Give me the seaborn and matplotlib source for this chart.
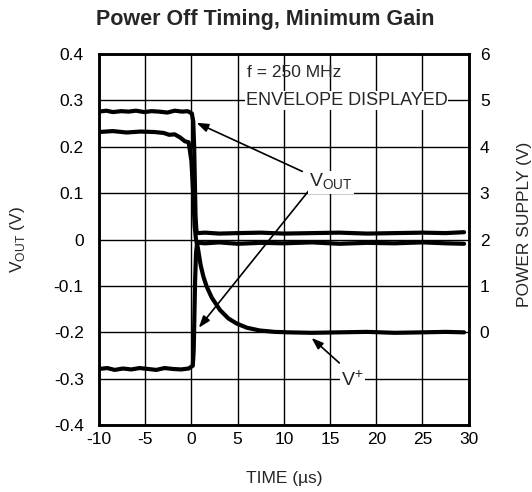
import numpy as np
import pandas as pd
import seaborn as sns
from matplotlib import pyplot as plt

# values read off the scope shot
# VOUT upper envelope (left axis, V)
vout_hi_t = [-10, -9.2, -8.5, -7.6, -6.8, -6, -5.1, -4.3, -3.5, -2.6, -1.8, -1, -0.4, 0.05,
             0.2, 0.3, 0.38, 0.45, 0.55, 0.7, 1.5, 3, 5, 7.5, 10, 13, 16, 19, 22, 25, 27.5, 29.5]
vout_hi_v = [0.276, 0.278, 0.275, 0.277, 0.276, 0.278, 0.275, 0.277, 0.276, 0.274, 0.278, 0.276,
             0.277, 0.272, 0.255, 0.2, 0.12, 0.05, 0.018, 0.014, 0.015, 0.013, 0.014, 0.015, 0.013,
             0.014, 0.015, 0.013, 0.014, 0.015, 0.014, 0.016]

# VOUT lower envelope (left axis, V)
vout_lo_t = [-10, -9.1, -8.3, -7.4, -6.5, -5.6, -4.7, -3.8, -2.9, -2, -1.1, -0.3, 0.15,
             0.25, 0.32, 0.4, 0.5, 0.6, 0.8, 1.5, 3, 5, 7.5, 10, 13, 16, 19, 22, 25, 27.5, 29.5]
vout_lo_v = [-0.279, -0.277, -0.281, -0.278, -0.28, -0.277, -0.279, -0.281, -0.277, -0.279,
             -0.28, -0.278, -0.272, -0.24, -0.17, -0.09, -0.03, -0.01, -0.007, -0.008, -0.006,
             -0.009, -0.007, -0.008, -0.006, -0.009, -0.007, -0.008, -0.006, -0.008, -0.009]

# V+ supply (right axis, V)
vplus_t = [-10, -8.5, -7, -5.5, -4, -3, -2.4, -1.8, -1.2, -0.7, -0.3, 0.0, 0.2, 0.35, 0.5,
           0.7, 1.0, 1.3, 1.65, 2.2, 3.1, 4.0, 4.9, 6.0, 7.4, 9, 10.5, 13, 16, 19, 22, 25, 27.5, 29.5]
vplus_v = [4.32, 4.34, 4.31, 4.33, 4.32, 4.3, 4.26, 4.27, 4.2, 4.12, 4.1, 3.7, 3.0, 2.3, 2.0,
           1.82, 1.45, 1.2, 0.99, 0.75, 0.48, 0.3, 0.19, 0.1, 0.04, 0.01, 0.0, -0.01, 0.0,
           0.01, -0.01, 0.0, 0.01, 0.0]

x_ticks = [-10, -5, 0, 5, 10, 15, 20, 25, 30]
y_ticks = [-0.4, -0.3, -0.2, -0.1, 0, 0.1, 0.2, 0.3, 0.4]
y_ticklabels = ["-0.4", "-0.3", "-0.2", "-0.1", "0", "0.1", "0.2", "0.3", "0.4"]
y2_ticks = [0, 1, 2, 3, 4, 5, 6]

sns.set_style("white")
plt.rcParams['font.family'] = ['Liberation Sans', 'DejaVu Sans']
plt.rcParams['mathtext.fontset'] = 'custom'
plt.rcParams['mathtext.rm'] = 'Liberation Sans'
plt.rcParams['axes.unicode_minus'] = False

FS = 12.5  # scope-shot text is wide, size picked to match widths

fig = plt.figure(figsize=(5.32, 4.92), dpi=100)
ax = fig.add_axes([0.186, 0.136, 0.695, 0.754])
ax2 = ax.twinx()

hi = pd.DataFrame({"t": vout_hi_t, "v": vout_hi_v})
lo = pd.DataFrame({"t": vout_lo_t, "v": vout_lo_v})
vp = pd.DataFrame({"t": vplus_t, "v": vplus_v})

sns.lineplot(data=hi, x="t", y="v", ax=ax, color="black", lw=3, sort=False, estimator=None)
sns.lineplot(data=lo, x="t", y="v", ax=ax, color="black", lw=3, sort=False, estimator=None)
sns.lineplot(data=vp, x="t", y="v", ax=ax2, color="black", lw=3, sort=False, estimator=None)

ax.set_xlim(-10, 30)
ax.set_ylim(-0.4, 0.4)
ax2.set_ylim(-2, 6)
ax.set_xticks(x_ticks)
ax.set_yticks(y_ticks)
ax.set_yticklabels(y_ticklabels)
ax2.set_yticks(y2_ticks)
ax.grid(True, color="black", lw=1.0)
ax.set_axisbelow(True)
ax2.grid(False)

for a in (ax, ax2):
    for s in a.spines.values():
        s.set_visible(True)
        s.set_color("black")
        s.set_linewidth(1.8)
    a.tick_params(length=0, labelsize=FS, colors="black")
ax.tick_params(axis="y", pad=11)
ax.tick_params(axis="x", pad=5)
ax2.tick_params(axis="y", pad=8)

ax.set_xlabel("TIME (\u00b5s)", fontsize=FS)
ax.set_ylabel(r"V$_{\mathregular{OUT}}$ (V)", fontsize=FS)
ax2.set_ylabel("POWER SUPPLY (V)", fontsize=FS)
ax.xaxis.set_label_coords(0.5, -0.125)
ax.yaxis.set_label_coords(-0.195, 0.5)
ax2.yaxis.set_label_coords(1.13, 0.54)
ax.set_title("Power Off Timing, Minimum Gain", fontsize=15.5, fontweight="bold",
             pad=21, x=0.45)

# annotations
ax2.text(6.0, 5.6, "f = 250 MHz", fontsize=FS, va="center")
ax2.text(5.9, 5.0, "ENVELOPE DISPLAYED", fontsize=13, va="center",
         bbox=dict(facecolor="white", edgecolor="none", pad=0.5))
arrow = dict(arrowstyle="-|>,head_length=0.7,head_width=0.25", color="black", lw=1.2, shrinkA=0, shrinkB=0)
ax.annotate("", xy=(0.55, 0.252), xytext=(12.0, 0.147), arrowprops=arrow)
ax.annotate("", xy=(0.8, -0.19), xytext=(12.8, 0.108), arrowprops=arrow)
ax.text(15.1, 0.124, r"V$_{\mathregular{OUT}}$", fontsize=14, ha="center", va="center",
        bbox=dict(facecolor="white", edgecolor="none", pad=1))
ax.annotate("", xy=(13.0, -0.212), xytext=(16.0, -0.266), arrowprops=arrow)
ax.text(17.4, -0.302, r"V$^{+}$", fontsize=14, ha="center", va="center",
        bbox=dict(facecolor="white", edgecolor="none", pad=1))

fig.savefig("out.png", dpi=100)
